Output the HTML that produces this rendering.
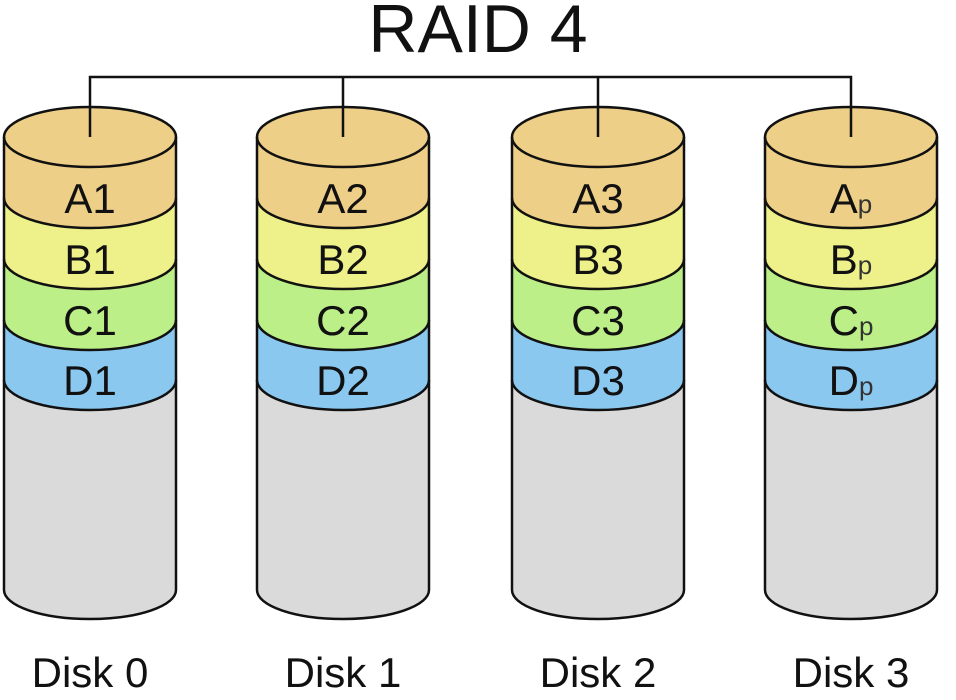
<!DOCTYPE html>
<html><head><meta charset="utf-8"><style>
html,body{margin:0;padding:0;background:#fff;}
svg{display:block;}
text{font-family:"Liberation Sans",sans-serif;fill:#111;}
</style></head><body>
<svg width="956" height="700" viewBox="0 0 956 700">
<defs>
<g id="disk">
<path d="M-86,380 L-86,590 A86,29 0 0 0 86,590 L86,380 Z" fill="#dadada"/>
<path d="M-86,320 L-86,380 A86,30 0 0 0 86,380 L86,320 Z" fill="#8bc8ef"/>
<path d="M-86,259 L-86,320 A86,30 0 0 0 86,320 L86,259 Z" fill="#bcef87"/>
<path d="M-86,198 L-86,259 A86,30 0 0 0 86,259 L86,198 Z" fill="#eef18a"/>
<path d="M-86,137 L-86,198 A86,30 0 0 0 86,198 L86,137 Z" fill="#edcf87"/>
<ellipse cx="0" cy="137" rx="86" ry="30" fill="#edcf87" stroke="#111" stroke-width="2.5"/>
<g fill="none" stroke="#111" stroke-width="2.5">
<path d="M-86,198 A86,30 0 0 0 86,198"/>
<path d="M-86,259 A86,30 0 0 0 86,259"/>
<path d="M-86,320 A86,30 0 0 0 86,320"/>
<path d="M-86,380 A86,30 0 0 0 86,380"/>
<path d="M-86,137 L-86,590 A86,29 0 0 0 86,590 L86,137"/>
</g>
</g>
</defs>
<text x="478" y="52" font-size="68" text-anchor="middle">RAID 4</text>
<use href="#disk" transform="translate(90,0)"/>
<use href="#disk" transform="translate(343,0)"/>
<use href="#disk" transform="translate(598,0)"/>
<use href="#disk" transform="translate(851,0)"/>
<path d="M90,137 L90,77 L851,77 L851,137 M343,77 L343,137 M598,77 L598,137" fill="none" stroke="#111" stroke-width="2.5"/>
<g font-size="42" text-anchor="middle">
<text x="90" y="213">A1</text><text x="90" y="274">B1</text><text x="90" y="335">C1</text><text x="90" y="395">D1</text>
<text x="343" y="213">A2</text><text x="343" y="274">B2</text><text x="343" y="335">C2</text><text x="343" y="395">D2</text>
<text x="598" y="213">A3</text><text x="598" y="274">B3</text><text x="598" y="335">C3</text><text x="598" y="395">D3</text>
<text x="851" y="213">A<tspan font-size="26" fill="#333">p</tspan></text>
<text x="851" y="274">B<tspan font-size="26" fill="#333">p</tspan></text>
<text x="851" y="335">C<tspan font-size="26" fill="#333">p</tspan></text>
<text x="851" y="395">D<tspan font-size="26" fill="#333">p</tspan></text>
<text x="90" y="687">Disk 0</text>
<text x="343" y="687">Disk 1</text>
<text x="598" y="687">Disk 2</text>
<text x="851" y="687">Disk 3</text>
</g>
</svg>
</body></html>
